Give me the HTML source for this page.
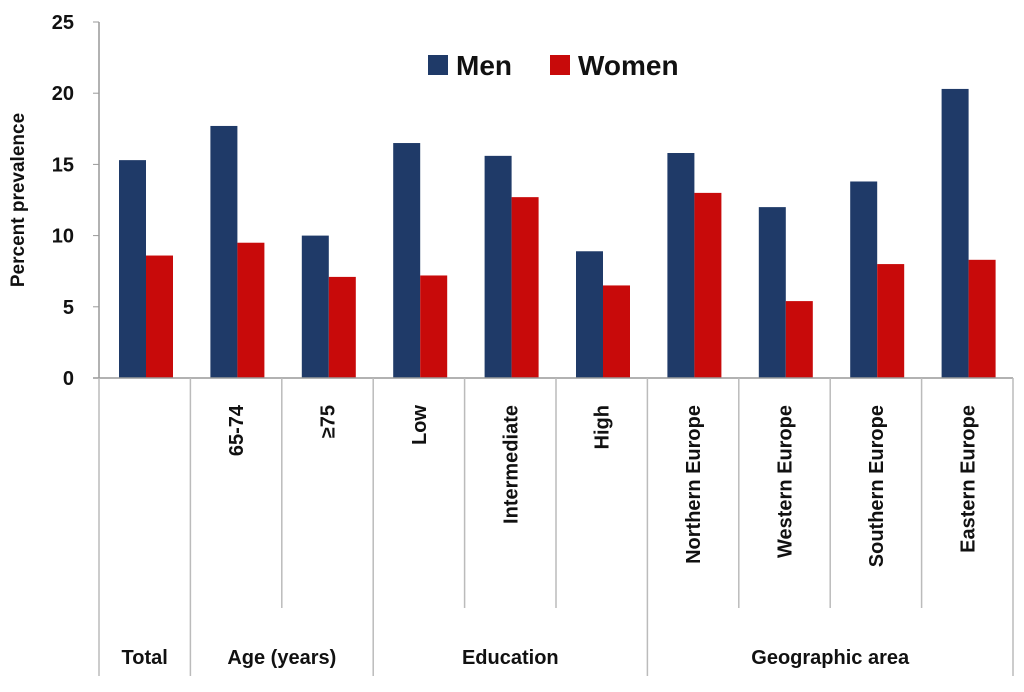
<!DOCTYPE html>
<html><head><meta charset="utf-8"><style>
body{margin:0;background:#fff;}
svg{display:block;font-family:"Liberation Sans",sans-serif;}
</style></head><body>
<svg id="c" width="1024" height="692"></svg>
<script>
const categories=["","65-74","≥75","Low","Intermediate","High","Northern Europe","Western Europe","Southern Europe","Eastern Europe"];
const men=[15.3,17.7,10.0,16.5,15.6,8.9,15.8,12.0,13.8,20.3];
const women=[8.6,9.5,7.1,7.2,12.7,6.5,13.0,5.4,8.0,8.3];
const yTicks=[0,5,10,15,20,25];
const groups=[["Total",0,1],["Age (years)",1,3],["Education",3,6],["Geographic area",6,10]];
const NS="http://www.w3.org/2000/svg",svg=document.getElementById('c');
const x0=99,x1=1013,y0=378,y1=22,cw=(x1-x0)/categories.length;
const y=v=>y0-(v/25)*(y0-y1), xc=i=>x0+i*cw;
function el(t,a,p){const e=document.createElementNS(NS,t);for(const k in a)e.setAttribute(k,a[k]);(p||svg).appendChild(e);return e;}
yTicks.forEach(t=>{
const tx=el('text',{x:74,y:y(t)+7,'text-anchor':'end','font-size':20,'font-weight':'bold',fill:'#111'});tx.textContent=t;


const tk=el('line',{x1:x0-6,x2:x0,y1:y(t),y2:y(t),stroke:'#999'});


});
const yt=el('text',{transform:'translate(24,200) rotate(-90)','text-anchor':'middle','font-size':19,'font-weight':'bold',fill:'#111'});yt.textContent='Percent prevalence';


categories.forEach((c,i)=>{
const bm=el('rect',{x:xc(i)+20,y:y(men[i]),width:27,height:y0-y(men[i]),fill:'#1f3a68'});


const bw=el('rect',{x:xc(i)+47,y:y(women[i]),width:27,height:y0-y(women[i]),fill:'#c80a0a'});


if(c){const t=el('text',{transform:`translate(${xc(i)+cw/2+7},405) rotate(-90)`,'text-anchor':'end','font-size':20,'font-weight':'bold',fill:'#111'});t.textContent=c;

}
});
const ax=el('line',{x1:x0-6,x2:x1,y1:y0,y2:y0,stroke:'#999','stroke-width':1.5});


const ay=el('line',{x1:x0,x2:x0,y1:y1,y2:y0,stroke:'#999','stroke-width':1.5});


const gb=new Set();groups.forEach(g=>{gb.add(g[1]);gb.add(g[2]);});
for(let i=0;i<=categories.length;i++){
const l=el('line',{x1:xc(i),x2:xc(i),y1:y0,y2:gb.has(i)?676:608,stroke:'#bbb','stroke-width':1.5});


}
groups.forEach(g=>{const t=el('text',{x:(xc(g[1])+xc(g[2]))/2,y:664,'text-anchor':'middle','font-size':20,'font-weight':'bold',fill:'#111'});t.textContent=g[0];

});
const lg=el('g',{});


el('rect',{x:428,y:55,width:20,height:20,fill:'#1f3a68'},lg);
const lt1=el('text',{x:456,y:75,'font-size':28,'font-weight':'bold',fill:'#111'},lg);lt1.textContent='Men';


el('rect',{x:550,y:55,width:20,height:20,fill:'#c80a0a'},lg);
const lt2=el('text',{x:578,y:75,'font-size':28,'font-weight':'bold',fill:'#111'},lg);lt2.textContent='Women';


</script>
</body></html>
